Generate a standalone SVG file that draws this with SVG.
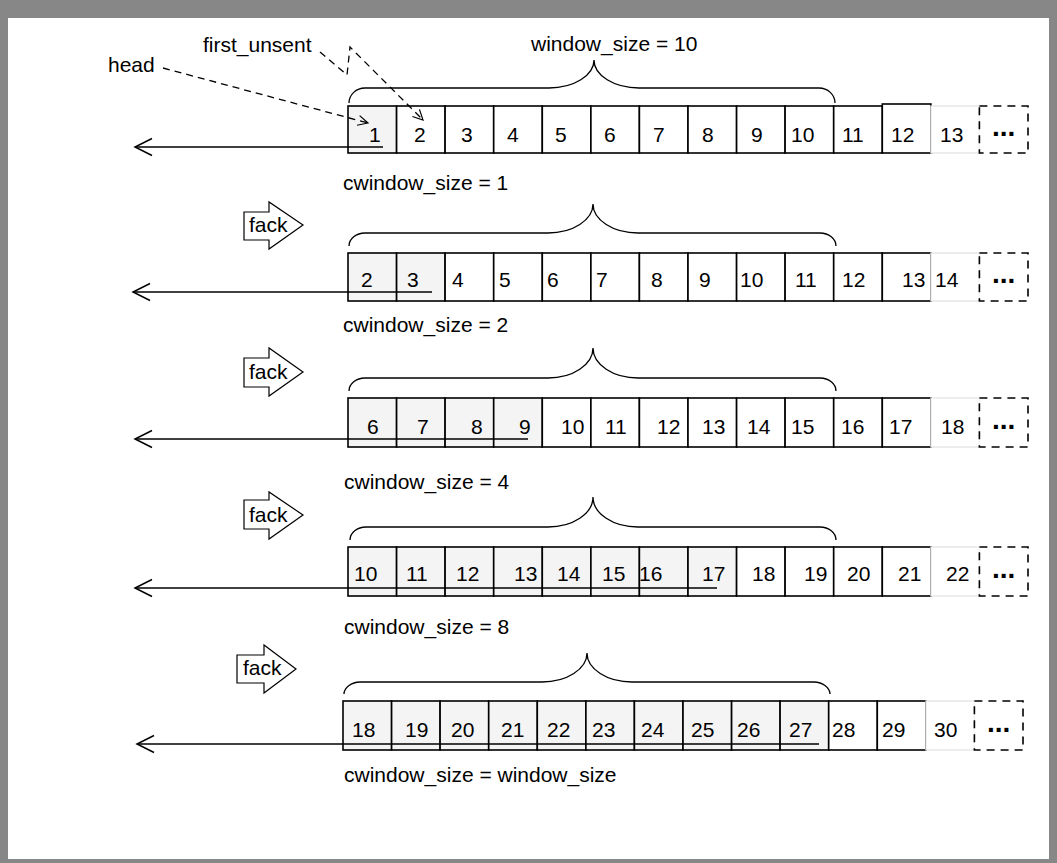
<svg xmlns="http://www.w3.org/2000/svg" width="1057" height="863" viewBox="0 0 1057 863">
<defs>
<style>
.t{font-family:"Liberation Sans",Arial,sans-serif;font-size:21px;fill:#000}
.dots{font-family:"Liberation Sans",Arial,sans-serif;font-size:28px;font-weight:bold;text-anchor:middle;fill:#000}
.c{fill:#fff;stroke:#000;stroke-width:1.6}
.s{fill:#f4f4f4;stroke:#000;stroke-width:1.6}
.f{fill:#fff;stroke:#e2e2e2;stroke-width:1.2}
.m{fill:#fff;stroke:#000;stroke-width:1.6;stroke-dasharray:8 6}
.ln{fill:none;stroke:#000;stroke-width:1.5}
.br{fill:none;stroke:#000;stroke-width:1.3}
.da{fill:none;stroke:#000;stroke-width:1.3;stroke-dasharray:7 5}
.fk{fill:#fff;stroke:#000;stroke-width:1.2}
</style>
<marker id="open" markerUnits="userSpaceOnUse" markerWidth="40" markerHeight="40" orient="auto" overflow="visible" refX="0" refY="0">
<path d="M-17,-8.5 L0,0 L-17,8.5" fill="none" stroke="#000" stroke-width="1.5"/>
</marker>
<marker id="small" markerUnits="userSpaceOnUse" markerWidth="30" markerHeight="30" orient="auto" overflow="visible" refX="0" refY="0">
<path d="M-10,-5 L0,0 L-10,5" fill="none" stroke="#000" stroke-width="1.2"/>
</marker>
</defs>

<g id="frame">
<rect x="0" y="0" width="1057" height="863" fill="#878787"/>
<rect x="8" y="18" width="1041" height="841" fill="#fff"/>
</g>

<g id="labels">
<text id="lbl-head" class="t" x="108" y="72">head</text>
<text id="lbl-first-unsent" class="t" x="203" y="52">first_unsent</text>
<text id="lbl-window" class="t" x="531" y="51">window_size = 10</text>
</g>

<g id="braces">
<path class="br" d="M349,103 C349,94.7 356.2,88 365,88 L549,88 C573.8,88 594,75.5 594,60 C594,75.5 614.2,88 639,88 L819,88 C827.8,88 835,94.7 835,103"/>
<path class="br" d="M349,246 C349,238.8 356.2,233 365,233 L548,233 C572.8,233 593,220 593,204 C593,220 613.2,233 638,233 L820,233 C828.8,233 836,238.8 836,246"/>
<path class="br" d="M349,391 C349,383.8 356.2,378 365,378 L548,378 C572.8,378 593,364.6 593,348 C593,364.6 613.2,378 638,378 L820,378 C828.8,378 836,383.8 836,391"/>
<path class="br" d="M350,540 C350,532.8 357.2,527 366,527 L548,527 C572.8,527 593,513.6 593,497 C593,513.6 613.2,527 638,527 L820,527 C828.8,527 836,532.8 836,540"/>
<path class="br" d="M344,694 C344,688 351.2,682 360,682 L542,682 C566.8,682 587,669 587,653 C587,669 607.2,682 632,682 L814,682 C822.8,682 830,688 830,694"/>
</g>

<g id="fack1"><path class="fk" d="M244,212 L269,212 L269,202 L303,225 L269,249 L269,240 L244,240 Z"/><text class="t" x="249" y="232">fack</text></g>
<g id="fack2"><path class="fk" d="M244,358 L269,358 L269,348 L303,372 L269,396 L269,387 L244,387 Z"/><text class="t" x="249" y="379">fack</text></g>
<g id="fack3"><path class="fk" d="M244,500 L269,500 L269,492 L303,515 L269,539 L269,529 L244,529 Z"/><text class="t" x="249" y="522">fack</text></g>
<g id="fack4"><path class="fk" d="M237,655 L264,655 L264,645 L296,669 L264,693 L264,683 L237,683 Z"/><text class="t" x="243" y="675">fack</text></g>

<g id="row1">
<rect class="s" x="348" y="106" width="48.6" height="47"/>
<rect class="c" x="396.6" y="106" width="48.5" height="47"/>
<rect class="c" x="445.1" y="106" width="48.6" height="47"/>
<rect class="c" x="493.7" y="106" width="48.6" height="47"/>
<rect class="c" x="542.3" y="106" width="48.6" height="47"/>
<rect class="c" x="590.9" y="106" width="48.5" height="47"/>
<rect class="c" x="639.4" y="106" width="48.6" height="47"/>
<rect class="c" x="688" y="106" width="48.6" height="47"/>
<rect class="c" x="736.6" y="106" width="48.5" height="47"/>
<rect class="c" x="785.1" y="106" width="48.6" height="47"/>
<rect class="c" x="833.7" y="106" width="48.6" height="47"/>
<rect class="c" x="882.3" y="104" width="48.6" height="49"/>
<rect class="f" x="930.9" y="106" width="48.5" height="47"/>
<rect class="m" x="979.4" y="106" width="48.6" height="47"/>
<text class="t" y="142"><tspan x="369">1</tspan><tspan x="414">2</tspan><tspan x="461">3</tspan><tspan x="507">4</tspan><tspan x="555">5</tspan><tspan x="604">6</tspan><tspan x="653">7</tspan><tspan x="702">8</tspan><tspan x="751">9</tspan><tspan x="791">10</tspan><tspan x="842">11</tspan><tspan x="891">12</tspan><tspan x="940">13</tspan></text>
<text class="dots" x="1003.7" y="135.5">...</text>
<text class="t" x="343" y="190">cwindow_size = 1</text>
</g>

<g id="row2">
<rect class="s" x="348" y="253" width="48.6" height="48"/>
<rect class="s" x="396.6" y="253" width="48.5" height="48"/>
<rect class="c" x="445.1" y="253" width="48.6" height="48"/>
<rect class="c" x="493.7" y="253" width="48.6" height="48"/>
<rect class="c" x="542.3" y="253" width="48.6" height="48"/>
<rect class="c" x="590.9" y="253" width="48.5" height="48"/>
<rect class="c" x="639.4" y="253" width="48.6" height="48"/>
<rect class="c" x="688" y="253" width="48.6" height="48"/>
<rect class="c" x="736.6" y="253" width="48.5" height="48"/>
<rect class="c" x="785.1" y="253" width="48.6" height="48"/>
<rect class="c" x="833.7" y="253" width="48.6" height="48"/>
<rect class="c" x="882.3" y="253" width="48.6" height="48"/>
<rect class="f" x="930.9" y="253" width="48.5" height="48"/>
<rect class="m" x="979.4" y="253" width="48.6" height="48"/>
<text class="t" y="287"><tspan x="361">2</tspan><tspan x="407">3</tspan><tspan x="452">4</tspan><tspan x="499">5</tspan><tspan x="547">6</tspan><tspan x="596">7</tspan><tspan x="651">8</tspan><tspan x="699">9</tspan><tspan x="740">10</tspan><tspan x="795">11</tspan><tspan x="842">12</tspan><tspan x="902">13</tspan><tspan x="935">14</tspan></text>
<text class="dots" x="1003.7" y="283">...</text>
<text class="t" x="343" y="332">cwindow_size = 2</text>
</g>

<g id="row3">
<rect class="s" x="348" y="398" width="48.6" height="49"/>
<rect class="s" x="396.6" y="398" width="48.5" height="49"/>
<rect class="s" x="445.1" y="398" width="48.6" height="49"/>
<rect class="s" x="493.7" y="398" width="48.6" height="49"/>
<rect class="c" x="542.3" y="398" width="48.6" height="49"/>
<rect class="c" x="590.9" y="398" width="48.5" height="49"/>
<rect class="c" x="639.4" y="398" width="48.6" height="49"/>
<rect class="c" x="688" y="398" width="48.6" height="49"/>
<rect class="c" x="736.6" y="398" width="48.5" height="49"/>
<rect class="c" x="785.1" y="398" width="48.6" height="49"/>
<rect class="c" x="833.7" y="398" width="48.6" height="49"/>
<rect class="c" x="882.3" y="398" width="48.6" height="49"/>
<rect class="f" x="930.9" y="398" width="48.5" height="49"/>
<rect class="m" x="979.4" y="398" width="48.6" height="49"/>
<text class="t" y="434"><tspan x="367">6</tspan><tspan x="417">7</tspan><tspan x="471">8</tspan><tspan x="519">9</tspan><tspan x="561">10</tspan><tspan x="605">11</tspan><tspan x="657">12</tspan><tspan x="702">13</tspan><tspan x="747">14</tspan><tspan x="791">15</tspan><tspan x="841">16</tspan><tspan x="889">17</tspan><tspan x="941">18</tspan></text>
<text class="dots" x="1003.7" y="428.5">...</text>
<text class="t" x="344" y="489">cwindow_size = 4</text>
</g>

<g id="row4">
<rect class="s" x="348" y="547" width="48.6" height="49"/>
<rect class="s" x="396.6" y="547" width="48.5" height="49"/>
<rect class="s" x="445.1" y="547" width="48.6" height="49"/>
<rect class="s" x="493.7" y="547" width="48.6" height="49"/>
<rect class="s" x="542.3" y="547" width="48.6" height="49"/>
<rect class="s" x="590.9" y="547" width="48.5" height="49"/>
<rect class="s" x="639.4" y="547" width="48.6" height="49"/>
<rect class="s" x="688" y="547" width="48.6" height="49"/>
<rect class="c" x="736.6" y="547" width="48.5" height="49"/>
<rect class="c" x="785.1" y="547" width="48.6" height="49"/>
<rect class="c" x="833.7" y="547" width="48.6" height="49"/>
<rect class="c" x="882.3" y="547" width="48.6" height="49"/>
<rect class="f" x="930.9" y="547" width="48.5" height="49"/>
<rect class="m" x="979.4" y="547" width="48.6" height="49"/>
<text class="t" y="581"><tspan x="354">10</tspan><tspan x="406">11</tspan><tspan x="456">12</tspan><tspan x="514">13</tspan><tspan x="557">14</tspan><tspan x="602">15</tspan><tspan x="639">16</tspan><tspan x="702">17</tspan><tspan x="752">18</tspan><tspan x="804">19</tspan><tspan x="847">20</tspan><tspan x="898">21</tspan><tspan x="946">22</tspan></text>
<text class="dots" x="1003.7" y="577.5">...</text>
<text class="t" x="344" y="634">cwindow_size = 8</text>
</g>

<g id="row5">
<rect class="s" x="343" y="701" width="48.6" height="49"/>
<rect class="s" x="391.6" y="701" width="48.5" height="49"/>
<rect class="s" x="440.1" y="701" width="48.6" height="49"/>
<rect class="s" x="488.7" y="701" width="48.6" height="49"/>
<rect class="s" x="537.3" y="701" width="48.6" height="49"/>
<rect class="s" x="585.9" y="701" width="48.5" height="49"/>
<rect class="s" x="634.4" y="701" width="48.6" height="49"/>
<rect class="s" x="683" y="701" width="48.6" height="49"/>
<rect class="s" x="731.6" y="701" width="48.5" height="49"/>
<rect class="s" x="780.1" y="701" width="48.6" height="49"/>
<rect class="c" x="828.7" y="701" width="48.6" height="49"/>
<rect class="c" x="877.3" y="701" width="48.6" height="49"/>
<rect class="f" x="925.9" y="701" width="48.5" height="49"/>
<rect class="m" x="974.4" y="701" width="48.6" height="49"/>
<text class="t" y="737"><tspan x="352">18</tspan><tspan x="405">19</tspan><tspan x="451">20</tspan><tspan x="501">21</tspan><tspan x="547">22</tspan><tspan x="592">23</tspan><tspan x="641">24</tspan><tspan x="691">25</tspan><tspan x="737">26</tspan><tspan x="789">27</tspan><tspan x="832">28</tspan><tspan x="882">29</tspan><tspan x="934">30</tspan></text>
<text class="dots" x="998.7" y="731.5">...</text>
<text class="t" x="344" y="782">cwindow_size = window_size</text>
</g>

<g id="connectors">
<path class="da" d="M163,68 L368,123" marker-end="url(#small)"/>
<path class="da" d="M320,52 L347,75 L350,47 L423,120" marker-end="url(#small)"/>
<path class="ln" d="M383,147 L135,147" marker-end="url(#open)"/>
<path class="ln" d="M432,292 L133,292" marker-end="url(#open)"/>
<path class="ln" d="M528,439 L135,439" marker-end="url(#open)"/>
<path class="ln" d="M717,588 L135,588" marker-end="url(#open)"/>
<path class="ln" d="M819,744 L137,744" marker-end="url(#open)"/>
</g>
</svg>
